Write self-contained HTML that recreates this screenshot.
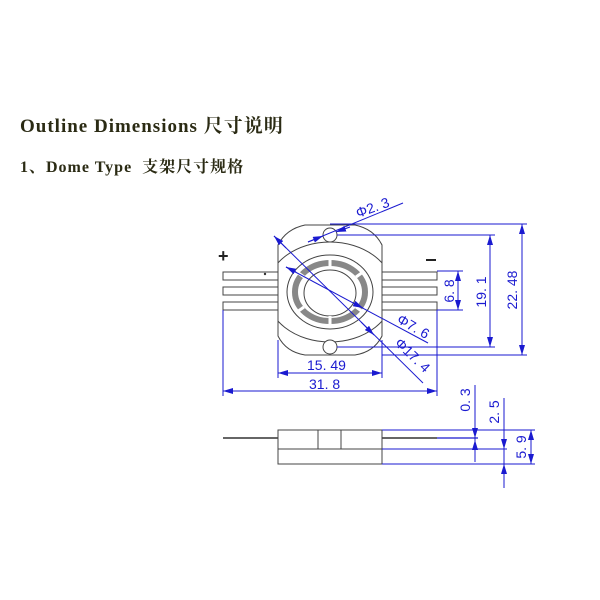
<!DOCTYPE html>
<html><head><meta charset="utf-8"><style>
html,body{margin:0;padding:0;background:#fff;}
body{width:600px;height:600px;position:relative;overflow:hidden;}
.t{position:absolute;font-family:"Liberation Serif","Noto Serif CJK SC",serif;font-weight:bold;color:#2b2b14;white-space:nowrap;}
svg{position:absolute;left:0;top:0;}
</style></head><body>
<div class="t" style="left:20px;top:111px;font-size:19px;letter-spacing:1px;">Outline Dimensions 尺寸说明</div>
<div class="t" style="left:20px;top:154px;font-size:16px;letter-spacing:1px;">1、Dome Type&nbsp; 支架尺寸规格</div>
<svg width="600" height="600" viewBox="0 0 600 600">
<defs>
<clipPath id="bc"><rect x="278" y="200" width="104" height="180"/></clipPath>
<marker id="a" viewBox="0 0 10 6" refX="10" refY="3" markerWidth="10" markerHeight="6" orient="auto-start-reverse" markerUnits="userSpaceOnUse"><path d="M0,0L10,3L0,6z" fill="#1a1ad0"/></marker>
</defs>
<g fill="none" stroke="#444" stroke-width="1">
<rect x="223" y="272" width="55" height="8" fill="#fff"/>
<rect x="223" y="287" width="55" height="8" fill="#fff"/>
<rect x="223" y="302" width="55" height="8" fill="#fff"/>
<rect x="382" y="272" width="55" height="8" fill="#fff"/>
<rect x="382" y="287" width="55" height="8" fill="#fff"/>
<rect x="382" y="302" width="55" height="8" fill="#fff"/>
<path d="M278,245 Q286,229 305,225 L355,225 Q374,229 382,245 L382,336 Q374,352 355,355 L305,355 Q286,352 278,336 Z" fill="#fff"/>
<g clip-path="url(#bc)">
<ellipse cx="330" cy="292" rx="64" ry="50"/>
</g>
<circle cx="330" cy="235" r="7" fill="#fff"/>
<circle cx="330" cy="347" r="7" fill="#fff"/>
<ellipse cx="330" cy="292" rx="43" ry="37"/>
<ellipse cx="330" cy="292" rx="35" ry="29" stroke="#888" stroke-width="6"/>
<ellipse cx="330" cy="293" rx="26" ry="23"/>
</g>
<g stroke="#fff" stroke-width="3">
<line x1="330" y1="258" x2="330" y2="268"/>
<line x1="330" y1="316" x2="330" y2="326"/>
<line x1="297" y1="272" x2="304" y2="277"/>
<line x1="363" y1="272" x2="356" y2="277"/>
<line x1="297" y1="312" x2="304" y2="307"/>
<line x1="363" y1="312" x2="356" y2="307"/>
</g>
<circle cx="265" cy="274" r="1.2" fill="#333"/>
<text x="218" y="262" font-family="Liberation Sans,sans-serif" font-size="18" font-weight="bold" fill="#222">+</text>
<line x1="426" y1="260" x2="436" y2="260" stroke="#222" stroke-width="2"/>
<g fill="none" stroke="#444" stroke-width="1">
<line x1="223" y1="438" x2="278" y2="438" stroke="#666" stroke-width="2"/>
<line x1="382" y1="438" x2="437" y2="438" stroke="#666" stroke-width="2"/>
<line x1="437" y1="438" x2="478" y2="438" stroke="#6f6fe0" stroke-width="2"/>
<rect x="278" y="430" width="104" height="34" fill="#fff"/>
<line x1="278" y1="449" x2="382" y2="449"/>
<line x1="318" y1="430" x2="318" y2="449"/>
<line x1="341" y1="430" x2="341" y2="449"/>
</g>
<g stroke="#1a1ad0" stroke-width="1" fill="none">
<line x1="330" y1="224" x2="527" y2="224"/>
<line x1="337" y1="235" x2="495" y2="235"/>
<line x1="337" y1="347" x2="495" y2="347"/>
<line x1="382" y1="355" x2="527" y2="355"/>
<line x1="437" y1="271" x2="463" y2="271"/>
<line x1="437" y1="310" x2="463" y2="310"/>
<line x1="522" y1="224" x2="522" y2="355" marker-start="url(#a)" marker-end="url(#a)"/>
<line x1="490" y1="235" x2="490" y2="347" marker-start="url(#a)" marker-end="url(#a)"/>
<line x1="458" y1="271" x2="458" y2="310" marker-start="url(#a)" marker-end="url(#a)"/>
<line x1="278" y1="340" x2="278" y2="378"/>
<line x1="382" y1="340" x2="382" y2="378"/>
<line x1="223" y1="310" x2="223" y2="396"/>
<line x1="437" y1="310" x2="437" y2="396"/>
<line x1="278" y1="373" x2="382" y2="373" marker-start="url(#a)" marker-end="url(#a)"/>
<line x1="223" y1="391" x2="437" y2="391" marker-start="url(#a)" marker-end="url(#a)"/>
<line x1="308" y1="242" x2="403" y2="203"/>
<line x1="308" y1="242" x2="323" y2="236" marker-end="url(#a)"/>
<line x1="336" y1="232" x2="350" y2="227" marker-start="url(#a)"/>
<line x1="286" y1="267" x2="428" y2="343"/>
<line x1="286" y1="267" x2="296" y2="272" marker-start="url(#a)"/>
<line x1="353" y1="303" x2="363" y2="308" marker-end="url(#a)"/>
<line x1="274" y1="236" x2="423" y2="383"/>
<line x1="274" y1="236" x2="286" y2="248" marker-start="url(#a)"/>
<line x1="361" y1="322" x2="374" y2="335" marker-end="url(#a)"/>
<line x1="382" y1="430" x2="535" y2="430"/>
<line x1="382" y1="449" x2="507" y2="449"/>
<line x1="382" y1="464" x2="535" y2="464"/>
<line x1="475" y1="385" x2="475" y2="462"/>
<line x1="475" y1="418" x2="475" y2="438" marker-end="url(#a)"/>
<line x1="475" y1="460" x2="475" y2="440" marker-end="url(#a)"/>
<line x1="504" y1="398" x2="504" y2="488"/>
<line x1="504" y1="432" x2="504" y2="449" marker-end="url(#a)"/>
<line x1="504" y1="480" x2="504" y2="464" marker-end="url(#a)"/>
<line x1="531" y1="430" x2="531" y2="464" marker-start="url(#a)" marker-end="url(#a)"/>
</g>
<g font-family="Liberation Sans,sans-serif" font-size="14" fill="#1a1ad0">
<text x="307" y="370">15. 49</text>
<text x="309" y="389">31. 8</text>
<text transform="translate(517,290) rotate(-90)" text-anchor="middle">22. 48</text>
<text transform="translate(486,292) rotate(-90)" text-anchor="middle">19. 1</text>
<text transform="translate(454,291) rotate(-90)" text-anchor="middle">6. 8</text>
<text transform="translate(358,218) rotate(-20)">Φ2. 3</text>
<text transform="translate(396,322) rotate(30)">Φ7. 6</text>
<text transform="translate(394,344) rotate(44)">Φ17. 4</text>
<text transform="translate(470,400) rotate(-90)" text-anchor="middle">0. 3</text>
<text transform="translate(499,412) rotate(-90)" text-anchor="middle">2. 5</text>
<text transform="translate(526,447) rotate(-90)" text-anchor="middle">5. 9</text>
</g>
</svg>
</body></html>
